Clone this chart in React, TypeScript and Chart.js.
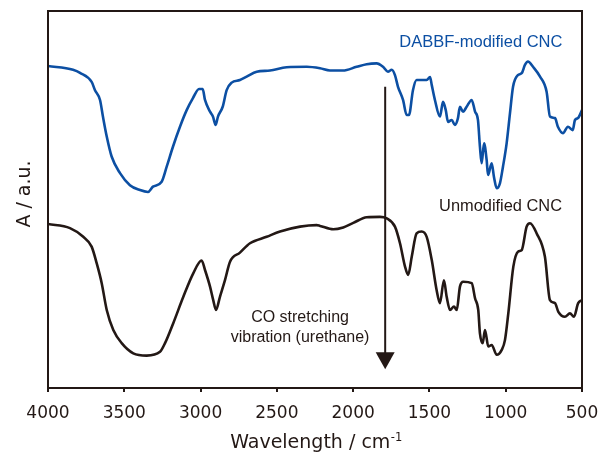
import React, { useEffect, useRef } from "react";
import { Chart, registerables } from "chart.js";

Chart.register(...registerables);

// ---- data (wavenumber in cm-1, absorbance in arbitrary units, offset spectra) ----
const dabbfWavenumbers = [
  4000, 3836, 3790, 3714, 3692, 3659, 3640, 3615, 3583, 3528, 3463, 3397, 3345, 3312, 3255, 3222, 3181, 3135, 3091, 3050,
  3010, 2986, 2971, 2938, 2919, 2901, 2886, 2855, 2829, 2796, 2742, 2698, 2632, 2545, 2436, 2304, 2217, 2152, 2067, 1977,
  1911, 1846, 1804, 1772, 1747, 1726, 1706, 1673, 1649, 1634, 1608, 1584, 1518, 1496, 1485, 1464, 1431, 1411, 1393, 1378,
  1354, 1333, 1313, 1300, 1280, 1256, 1223, 1201, 1182, 1169, 1158, 1142, 1125, 1116, 1092, 1077, 1059, 1038, 1018, 994,
  972, 952, 920, 895, 874, 854, 821, 775, 732, 710, 677, 658, 625, 592, 561, 546, 526, 500,
];
const dabbfAbsorbance = [
  85.4, 84.4, 83.6, 81.2, 79.0, 76.4, 72.0, 66.7, 61.4, 57.0, 53.8, 52.5, 52.0, 53.4, 54.7, 58.7, 64.0, 69.3, 73.7, 76.9,
  79.3, 79.3, 76.4, 73.3, 72.0, 69.8, 72.0, 74.6, 79.0, 81.0, 81.7, 82.6, 83.9, 84.2, 85.1, 85.2, 84.8, 84.2, 84.2, 85.2,
  85.9, 86.1, 85.2, 83.9, 84.4, 83.0, 79.9, 76.4, 72.4, 72.4, 79.0, 81.7, 81.7, 82.5, 80.4, 76.4, 72.0, 75.9, 73.7, 70.6,
  71.1, 69.8, 71.6, 74.6, 73.3, 74.6, 76.4, 73.3, 71.1, 64.0, 59.6, 64.9, 60.5, 56.5, 59.6, 56.0, 53.0, 54.3, 58.7, 64.9,
  72.9, 79.9, 83.0, 83.5, 85.7, 86.6, 85.2, 82.6, 78.6, 72.0, 71.6, 69.3, 67.6, 69.3, 68.4, 71.1, 71.6, 73.7,
];

const unmodWavenumbers = [
  4000, 3856, 3769, 3714, 3681, 3648, 3615, 3572, 3517, 3441, 3353, 3266, 3233, 3179, 3113, 3048, 2993, 2971, 2938, 2917,
  2899, 2873, 2840, 2807, 2742, 2676, 2567, 2479, 2348, 2239, 2217, 2130, 2065, 1999, 1911, 1824, 1780, 1726, 1693, 1660,
  1639, 1616, 1584, 1551, 1518, 1485, 1453, 1431, 1405, 1387, 1365, 1339, 1321, 1300, 1278, 1223, 1201, 1180, 1169, 1151,
  1136, 1114, 1092, 1059, 1026, 1005, 983, 950, 918, 895, 863, 841, 797, 743, 710, 677, 655, 612, 579, 553, 525, 500,
];
const unmodAbsorbance = [
  43.5, 42.4, 40.1, 37.5, 33.1, 27.8, 20.7, 15.4, 11.9, 9.2, 8.6, 9.6, 11.9, 17.2, 24.2, 30.4, 33.8, 31.3, 26.9, 23.3,
  20.7, 24.2, 28.6, 33.5, 35.9, 38.4, 40.1, 41.5, 42.8, 43.2, 43.0, 42.1, 42.6, 43.8, 45.3, 45.4, 45.0, 42.8, 38.4, 32.2,
  30.0, 34.8, 41.0, 41.5, 40.1, 34.0, 26.0, 22.5, 28.6, 24.2, 20.7, 21.6, 20.7, 26.9, 28.2, 27.8, 23.8, 20.7, 14.5, 11.9,
  15.4, 11.0, 11.4, 8.8, 10.1, 12.7, 19.8, 32.2, 36.2, 36.6, 42.8, 43.7, 41.0, 34.8, 23.3, 22.5, 20.2, 18.9, 19.8, 18.9,
  22.5, 23.3,
];

const xTickValues = [4000, 3500, 3000, 2500, 2000, 1500, 1000, 500];

const seriesNames = ["DABBF-modified CNC", "Unmodified CNC"];
// label anchor points (wavenumber, absorbance of text baseline)
const seriesLabelX = [1163, 1034];
const seriesLabelY = [90.5, 46.9];

const noteLines = ["CO stretching", "vibration (urethane)"];
const noteX = 2348;
const noteY = [17.4, 12.3];

const arrowWavenumber = 1790;
const arrowFrom = 79.9;
const arrowTo = 5.0;

const xTitle = "Wavelength / cm";
const xTitleSup = "-1";
const yTitle = "A / a.u.";

const BLUE = "#0c4fa3";
const INK = "#231815";

export default function App() {
  const ref = useRef<HTMLCanvasElement | null>(null);

  useEffect(() => {
    const canvas = ref.current;
    if (!canvas) return;

    const overlay = {
      id: "overlay",
      afterDatasetsDraw(chart: any) {
        const { ctx, chartArea: a, scales } = chart;
        const x = scales.x;
        const y = scales.y;
        ctx.save();
        // frame
        ctx.strokeStyle = INK;
        ctx.lineWidth = 2;
        ctx.strokeRect(a.left, a.top, a.right - a.left, a.bottom - a.top);

        // arrow
        const ax = x.getPixelForValue(arrowWavenumber);
        const top = y.getPixelForValue(arrowFrom);
        const tip = y.getPixelForValue(arrowTo);
        ctx.fillStyle = INK;
        ctx.beginPath();
        ctx.moveTo(ax, top);
        ctx.lineTo(ax, tip - 12);
        ctx.stroke();
        ctx.beginPath();
        ctx.moveTo(ax - 9.5, tip - 17);
        ctx.lineTo(ax + 9.5, tip - 17);
        ctx.lineTo(ax, tip);
        ctx.closePath();
        ctx.fill();

        // series labels
        ctx.textAlign = "center";
        ctx.textBaseline = "alphabetic";
        ctx.font = "16.5px 'Liberation Sans', Arial, sans-serif";
        ctx.fillStyle = BLUE;
        ctx.fillText(seriesNames[0], x.getPixelForValue(seriesLabelX[0]), y.getPixelForValue(seriesLabelY[0]));
        ctx.font = "16.4px 'Liberation Sans', Arial, sans-serif";
        ctx.fillStyle = INK;
        ctx.fillText(seriesNames[1], x.getPixelForValue(seriesLabelX[1]), y.getPixelForValue(seriesLabelY[1]));

        // note
        ctx.font = "16px 'Liberation Sans', Arial, sans-serif";
        noteLines.forEach((t, i) => {
          ctx.fillText(t, x.getPixelForValue(noteX), y.getPixelForValue(noteY[i]));
        });

        // x title with superscript
        const cx = (a.left + a.right) / 2 + 1;
        const by = 448;
        ctx.font = "19px 'DejaVu Sans', sans-serif";
        const w1 = ctx.measureText(xTitle).width;
        ctx.font = "11.5px 'DejaVu Sans', sans-serif";
        const w2 = ctx.measureText(xTitleSup).width;
        const start = cx - (w1 + w2) / 2;
        ctx.textAlign = "left";
        ctx.font = "19px 'DejaVu Sans', sans-serif";
        ctx.fillText(xTitle, start, by);
        ctx.font = "11.5px 'DejaVu Sans', sans-serif";
        ctx.fillText(xTitleSup, start + w1 + 0.5, by - 7.5);

        // y title
        ctx.save();
        ctx.translate(29.5, 194);
        ctx.rotate(-Math.PI / 2);
        ctx.textAlign = "center";
        ctx.font = "19px 'DejaVu Sans', sans-serif";
        ctx.fillText(yTitle, 0, 0);
        ctx.restore();

        ctx.restore();
      },
    };

    const lineStyle = {
      borderWidth: 2.6,
      pointRadius: 0,
      cubicInterpolationMode: "monotone" as const,
      borderJoinStyle: "round" as const,
      borderCapStyle: "round" as const,
    };

    const chart = new Chart(canvas, {
      type: "line",
      data: {
        datasets: [
          {
            label: seriesNames[0],
            data: dabbfWavenumbers.map((w, i) => ({ x: w, y: dabbfAbsorbance[i] })),
            borderColor: BLUE,
            ...lineStyle,
          },
          {
            label: seriesNames[1],
            data: unmodWavenumbers.map((w, i) => ({ x: w, y: unmodAbsorbance[i] })),
            borderColor: INK,
            ...lineStyle,
          },
        ],
      },
      options: {
        animation: false,
        responsive: false,
        devicePixelRatio: 1,
        layout: { padding: { left: 0, right: 19, top: 11, bottom: 0 } },
        plugins: { legend: { display: false }, tooltip: { enabled: false } },
        scales: {
          x: {
            type: "linear",
            reverse: true,
            min: 500,
            max: 4000,
            afterBuildTicks: (scale: any) => {
              scale.ticks = xTickValues.map((v) => ({ value: v }));
            },
            afterFit: (scale: any) => {
              scale.height = 67;
              scale.paddingLeft = 0;
              scale.paddingRight = 0;
            },
            border: { display: false },
            grid: {
              display: true,
              drawOnChartArea: false,
              drawTicks: true,
              tickLength: 4,
              color: INK,
              lineWidth: 2,
            },
            ticks: {
              color: INK,
              padding: 11,
              maxRotation: 0,
              autoSkip: false,
              font: { family: "'DejaVu Sans', sans-serif", size: 17 },
              callback: (v: any) => String(v),
            },
          },
          y: {
            type: "linear",
            min: 0,
            max: 100,
            afterFit: (scale: any) => {
              scale.width = 48;
            },
            border: { display: false },
            grid: { display: false },
            ticks: { display: false },
          },
        },
      },
      plugins: [overlay],
    });

    return () => chart.destroy();
  }, []);

  return (
    <div style={{ position: "absolute", left: 0, top: 0, width: 601, height: 455, background: "#fff" }}>
      <canvas ref={ref} width={601} height={455} style={{ display: "block" }} />
    </div>
  );
}
